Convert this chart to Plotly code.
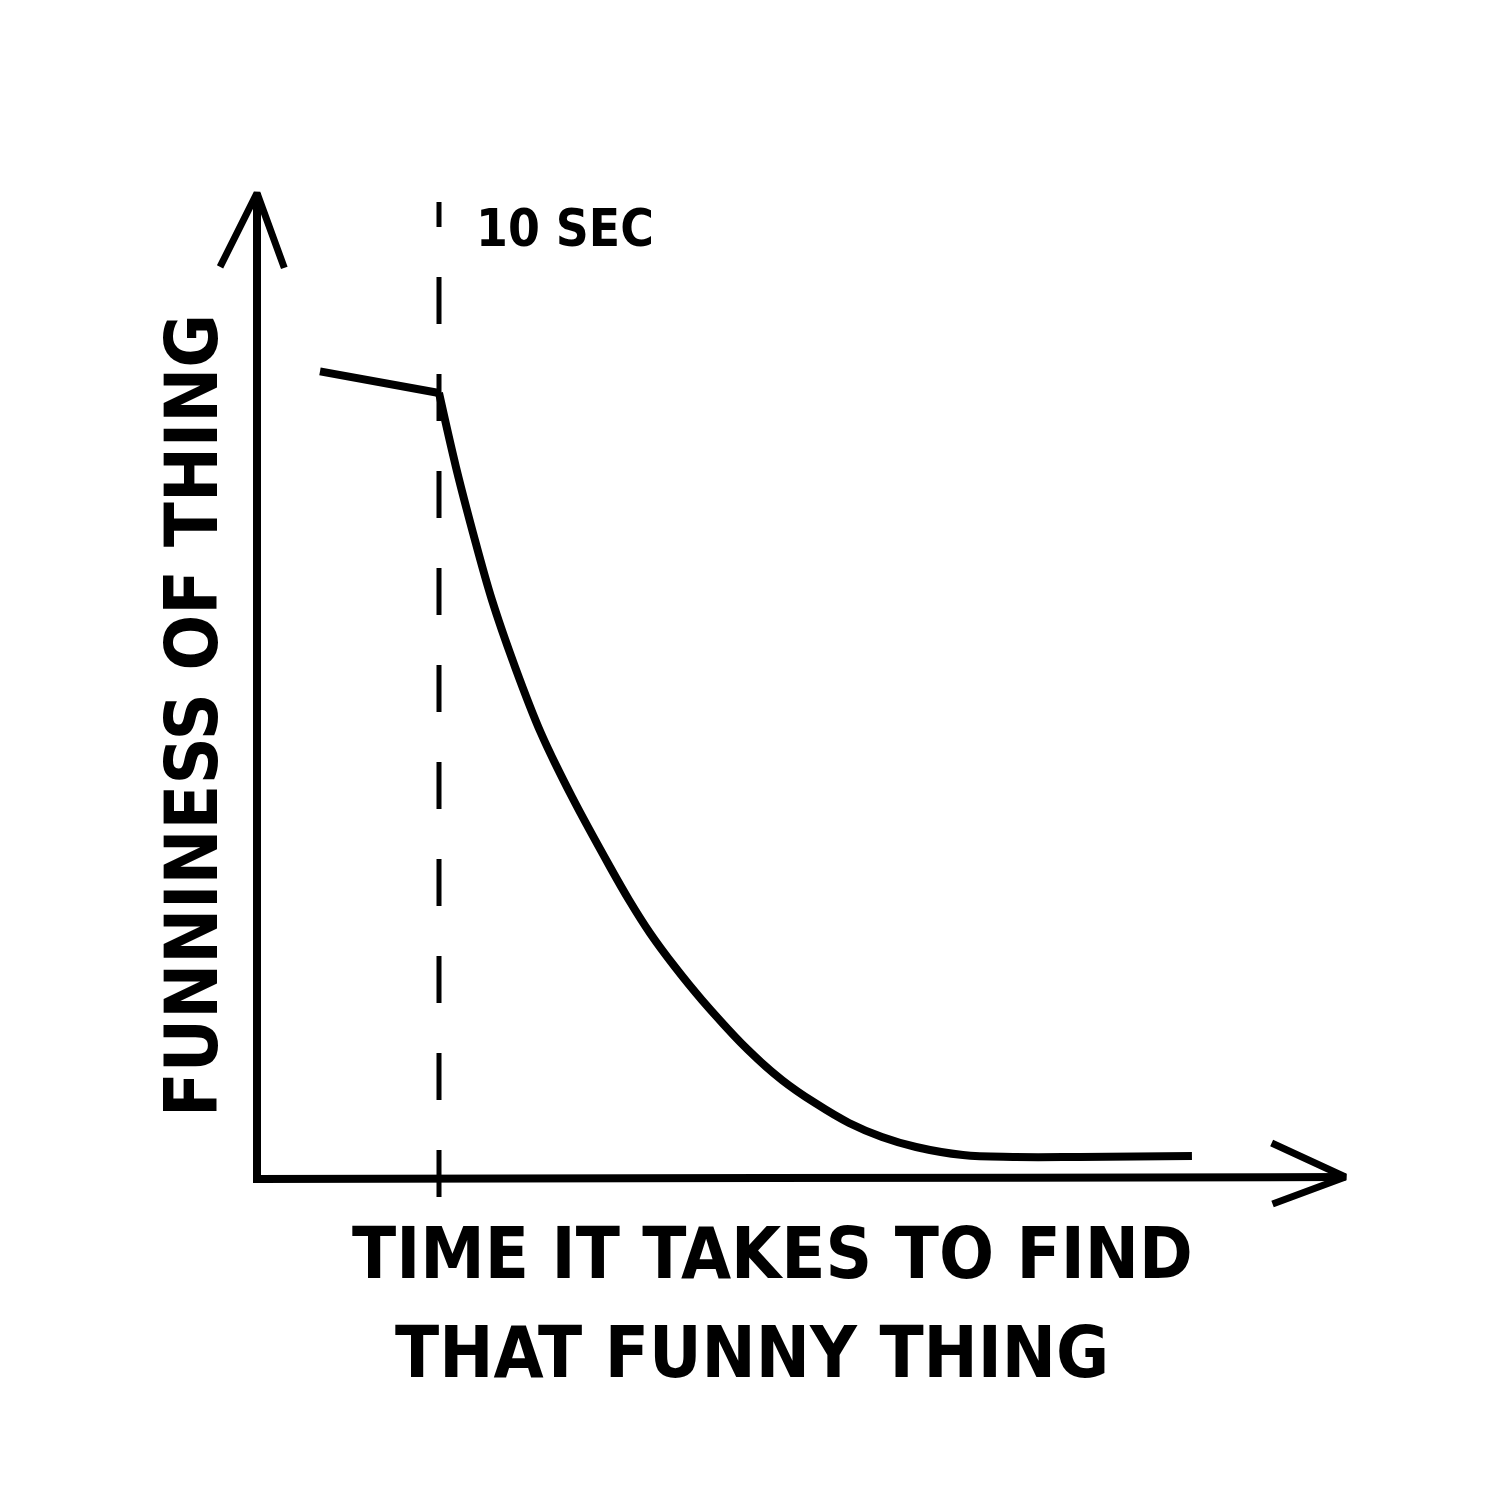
import plotly.graph_objects as go

# ---- data (seconds, funniness units) ----
time_sec = [3.46, 10.0]
funniness = [82.1, 79.9]

decay_time = [10.0, 10.93, 11.87, 12.91, 14.18, 15.60, 17.31, 19.40, 20.44, 21.59,
              22.97, 24.45, 26.98, 28.85, 30.66, 32.53, 34.34, 36.21, 38.79,
              41.54, 45.22, 51.37]
decay_funniness = [79.9, 72.39, 65.69, 58.88, 52.08, 45.38, 38.88, 31.78, 28.43, 25.08,
                   21.62, 18.27, 13.20, 10.15, 7.82, 5.79, 4.37, 3.35, 2.54,
                   2.34, 2.34, 2.44]

marker_time = 10
marker_label = "10 SEC"
x_title_lines = ["TIME IT TAKES TO FIND", "THAT FUNNY THING"]
y_title = "FUNNINESS OF THING"

# axis extents (data units)
X_MIN, X_MAX = 0, 59.8
Y_MIN, Y_MAX = 0, 100.2

FONT = "DejaVu Sans Condensed, DejaVu Sans, sans-serif"
BLACK = "#000000"
LW = 8

fig = go.Figure()

# y axis with arrowhead
fig.add_trace(go.Scatter(x=[X_MIN, X_MIN], y=[-0.3, Y_MAX], mode="lines",
                         line=dict(color=BLACK, width=LW), hoverinfo="skip"))
fig.add_trace(go.Scatter(x=[X_MIN - 2.03, X_MIN, X_MIN + 1.5], y=[Y_MAX - 7.5, Y_MAX, Y_MAX - 7.6],
                         mode="lines", line=dict(color=BLACK, width=LW - 1), hoverinfo="skip"))
# x axis with arrowhead
fig.add_trace(go.Scatter(x=[X_MIN - 0.11, X_MAX], y=[0.1, 0.3], mode="lines",
                         line=dict(color=BLACK, width=LW), hoverinfo="skip"))
fig.add_trace(go.Scatter(x=[X_MAX - 4.05, X_MAX, X_MAX - 4.0], y=[3.76, 0.3, -2.44],
                         mode="lines", line=dict(color=BLACK, width=LW - 1), hoverinfo="skip"))

# dashed marker line at 10 sec (drawn bottom to top)
fig.add_trace(go.Scatter(x=[marker_time, marker_time], y=[-1.73, 99.3], mode="lines",
                         line=dict(color=BLACK, width=5, dash="47px,50px"), hoverinfo="skip"))

# curve
fig.add_trace(go.Scatter(x=time_sec, y=funniness, mode="lines",
                         line=dict(color=BLACK, width=LW), hoverinfo="skip"))
fig.add_trace(go.Scatter(x=decay_time, y=decay_funniness, mode="lines",
                         line=dict(color=BLACK, width=LW, shape="spline", smoothing=1.0,
                                   simplify=False),
                         hoverinfo="skip"))

anns = [
    dict(x=16.92, y=96.65, text=marker_label, font=dict(size=51, family=FONT, color=BLACK, weight="bold")),
    dict(x=-3.63, y=47.2, text=y_title, textangle=-90,
         font=dict(size=73, family=FONT, color=BLACK, weight="bold")),
    dict(x=28.3, y=-7.4, text=x_title_lines[0], font=dict(size=72, family=FONT, color=BLACK, weight="bold")),
    dict(x=27.2, y=-17.46, text=x_title_lines[1], font=dict(size=72, family=FONT, color=BLACK, weight="bold")),
]
for a in anns:
    fig.add_annotation(xref="x", yref="y", showarrow=False, xanchor="center", yanchor="middle", **a)

# pixel mapping (page has an 8px body offset): origin at page (257,1180),
# 18.2 px/sec, 9.85 px/unit
OX, OY = 257 - 8, 1180 - 8
fig.update_xaxes(range=[-OX / 18.2, (1500 - OX) / 18.2], visible=False, fixedrange=True)
fig.update_yaxes(range=[(OY - 1500) / 9.85, OY / 9.85], visible=False, fixedrange=True)
fig.update_layout(width=1500, height=1500, margin=dict(l=0, r=0, t=0, b=0),
                  paper_bgcolor="white", plot_bgcolor="white", showlegend=False)

fig.write_html("out.html")
